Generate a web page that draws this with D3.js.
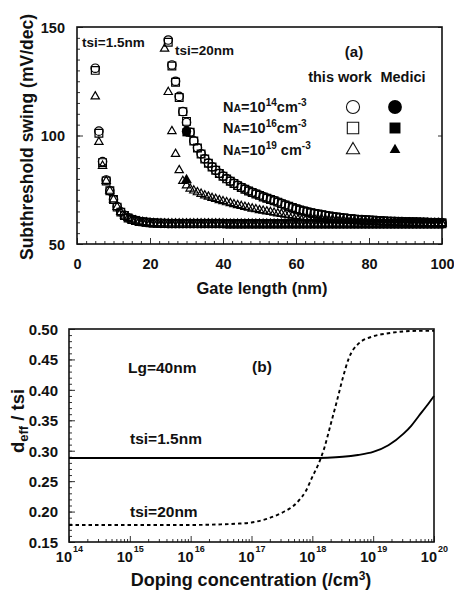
<!DOCTYPE html>
<html lang="en">
<head>
  <meta charset="UTF-8">
  <title>Subthreshold swing and deff/tsi</title>
  <script src="https://d3js.org/d3.v7.min.js"></script>
  <style>
    body { margin: 0; background: #fff; }
    svg text { font-family: "Liberation Sans", Arial, sans-serif; font-weight: bold; fill: #111; }
    .frame { fill: none; stroke: #111; stroke-width: 1.6; }
    .tick line { stroke: #333; }
    .axis path.domain { display: none; }
  </style>
</head>
<body>
<div id="chart"></div>
<script>
// ---------- panel (a): subthreshold swing vs gate length ----------
// tsi = 1.5 nm, gate length 5..100 nm
const glThin = [5,6,7,8,9,10,11,12,13,14,15,16,17,18,19,20,21,22,23,24,
  25,26,27,28,29,30,31,32,33,34,35,36,37,38,39,40,41,42,43,44,45,46,47,48,49,50,
  51,52,53,54,55,56,57,58,59,60,61,62,63,64,65,66,67,68,69,70,
  71,72,73,74,75,76,77,78,79,80,81,82,83,84,85,86,87,88,89,90,
  91,92,93,94,95,96,97,98,99,100];
const thinCirc = [131,102,88,79.5,74.5,70.5,67.2,64.8,63.2,62.1,61.4,60.9,60.5,60.2,60.0,59.8,59.7,59.6,59.5,59.5,
  59.4,59.4,59.4,59.4,59.4,59.4,59.4,59.4,59.4,59.4,59.4,59.4,59.4,59.4,59.4,59.4,59.3,59.3,59.3,59.3,59.3,59.3,59.3,59.3,59.3,59.3,
  59.3,59.3,59.3,59.3,59.3,59.3,59.3,59.3,59.3,59.3,59.3,59.3,59.3,59.3,59.3,59.3,59.3,59.3,59.3,59.3,
  59.3,59.3,59.3,59.3,59.3,59.3,59.3,59.3,59.3,59.3,59.3,59.3,59.3,59.3,59.3,59.3,59.3,59.3,59.3,59.3,
  59.3,59.3,59.3,59.3,59.3,59.3,59.3,59.3,59.3,59.3];
const thinSq = [130,101,87.5,79,74.5,70.5,67,64.7,63.1,62.0,61.3,60.8,60.4,60.2,60.0,59.8,59.7,59.6,59.5,59.5,
  59.4,59.4,59.4,59.4,59.4,59.4,59.4,59.4,59.4,59.4,59.4,59.4,59.4,59.4,59.4,59.4,59.3,59.3,59.3,59.3,59.3,59.3,59.3,59.3,59.3,59.3,
  59.3,59.3,59.3,59.3,59.3,59.3,59.3,59.3,59.3,59.3,59.3,59.3,59.3,59.3,59.3,59.3,59.3,59.3,59.3,59.3,
  59.3,59.3,59.3,59.3,59.3,59.3,59.3,59.3,59.3,59.3,59.3,59.3,59.3,59.3,59.3,59.3,59.3,59.3,59.3,59.3,
  59.3,59.3,59.3,59.3,59.3,59.3,59.3,59.3,59.3,59.3];
const thinTri = [118,97,86,79,74.5,70.5,67,64.7,63.1,62.0,61.3,60.8,60.4,60.1,59.9,59.7,59.6,59.5,59.5,59.4,
  59.4,59.4,59.4,59.4,59.4,59.4,59.4,59.4,59.4,59.4,59.4,59.4,59.4,59.4,59.4,59.4,59.3,59.3,59.3,59.3,59.3,59.3,59.3,59.3,59.3,59.3,
  59.3,59.3,59.3,59.3,59.3,59.3,59.3,59.3,59.3,59.3,59.3,59.3,59.3,59.3,59.3,59.3,59.3,59.3,59.3,59.3,
  59.3,59.3,59.3,59.3,59.3,59.3,59.3,59.3,59.3,59.3,59.3,59.3,59.3,59.3,59.3,59.3,59.3,59.3,59.3,59.3,
  59.3,59.3,59.3,59.3,59.3,59.3,59.3,59.3,59.3,59.3];

// tsi = 20 nm
const glThick = [25,26,27,28,29,30,31,32,33,34,35,36,37,38,39,40,41,42,43,44,45,46,47,48,49,50,
  51,52,53,54,55,56,57,58,59,60,61,62,63,64,65,66,67,68,69,70,
  71,72,73,74,75,76,77,78,79,80,81,82,83,84,85,86,87,88,89,90,
  91,92,93,94,95,96,97,98,99,100];
const thickCirc = [144,132.5,125,118,111,106,101.5,97.5,94.3,91.6,89.3,87.3,85.6,84.0,82.6,81.3,80.1,79.0,78.0,77.0,76.1,75.3,74.5,73.8,73.1,72.5,
  71.8,71.2,70.6,70.0,69.3,68.7,68.0,67.4,66.8,66.2,65.7,65.3,64.9,64.5,64.1,63.8,63.5,63.2,62.9,62.6,
  62.4,62.2,62.0,61.8,61.6,61.5,61.3,61.2,61.1,61.0,60.9,60.8,60.7,60.6,60.5,60.4,60.4,60.3,60.3,60.2,
  60.2,60.1,60.1,60.0,60.0,60.0,59.9,59.9,59.9,59.8];
const thickSq = [143,132,124.5,117.5,111,106.5,101.5,97.5,94.2,91.5,89.2,87.2,85.5,84.0,82.5,81.2,80.0,78.9,77.9,76.9,76.0,75.2,74.4,73.7,73.0,72.4,
  71.7,71.1,70.5,69.9,69.3,68.6,68.0,67.4,66.8,66.2,65.7,65.2,64.8,64.4,64.1,63.8,63.5,63.2,62.9,62.6,
  62.4,62.2,62.0,61.8,61.6,61.4,61.3,61.2,61.1,61.0,60.9,60.8,60.7,60.6,60.5,60.4,60.4,60.3,60.3,60.2,
  60.2,60.1,60.1,60.0,60.0,59.9,59.9,59.9,59.8,59.8];
const glThickTri = [24,25,26,27,28,29,30,31,32,33,34,35,36,37,38,39,40,41,42,43,44,45,46,47,48,49,50,
  51,52,53,54,55,56,57,58,59,60,61,62,63,64,65,66,67,68,69,70,
  71,72,73,74,75,76,77,78,79,80,81,82,83,84,85,86,87,88,89,90,
  91,92,93,94,95,96,97,98,99,100];
const thickTri = [140,120,102,91.5,84,79,77,75.5,74.6,73.8,73.1,72.4,71.8,71.2,70.7,70.2,69.7,69.2,68.8,68.3,67.9,67.5,67.1,66.7,66.3,66.0,65.6,
  65.3,65.0,64.7,64.4,64.1,63.8,63.5,63.3,63.0,62.8,62.6,62.4,62.2,62.0,61.8,61.6,61.5,61.3,61.2,61.1,
  61.0,60.9,60.8,60.7,60.6,60.5,60.4,60.4,60.3,60.2,60.2,60.1,60.1,60.0,60.0,59.9,59.9,59.9,59.8,59.8,
  59.8,59.7,59.7,59.7,59.7,59.6,59.6,59.6,59.6,59.6];

// Medici points (tsi = 20 nm, Lg = 30 nm)
const mediciGl = [30, 30, 30];
const mediciSS = [102, 101.5, 79.5];
const mediciShape = ["circle", "square", "triangle"];

// ---------- panel (b): deff/tsi vs doping ----------
const dopThin = [1e14,1e15,1e16,1e17,3.16e17,1e18,1.78e18,3.16e18,5.62e18,1e19,1.78e19,3.16e19,4.22e19,5.62e19,7.5e19,1e20];
const ratioThin = [0.288,0.288,0.288,0.288,0.288,0.288,0.2885,0.290,0.293,0.298,0.309,0.328,0.341,0.357,0.373,0.390];
const dopThick = [1e14,1e15,1e16,3.16e16,5.62e16,1e17,1.78e17,3.16e17,5.62e17,7.94e17,1e18,1.26e18,1.58e18,2e18,2.51e18,3.16e18,3.98e18,5.62e18,1e19,1.78e19,3.16e19,5.62e19,1e20];
const ratioThick = [0.178,0.178,0.178,0.179,0.180,0.182,0.188,0.198,0.215,0.235,0.257,0.278,0.305,0.343,0.380,0.419,0.452,0.475,0.488,0.493,0.496,0.497,0.497];

const xTicksA = [0, 20, 40, 60, 80, 100];
const yTicksA = [50, 100, 150];
const yTicksB = [0.15, 0.20, 0.25, 0.30, 0.35, 0.40, 0.45, 0.50];
const decades = [14, 15, 16, 17, 18, 19, 20];

const W = 454, H = 594;
const svg = d3.select("#chart").append("svg")
  .attr("width", W).attr("height", H);
svg.append("rect").attr("width", W).attr("height", H).attr("fill", "#fff");

// ===== panel (a) =====
const xA = d3.scaleLinear().domain([0, 100]).range([77, 442]);
const yA = d3.scaleLinear().domain([50, 150]).range([244, 27]);

// minor ticks
svg.append("g").attr("class", "axis")
  .attr("transform", `translate(0,${yA(50)})`)
  .call(d3.axisBottom(xA).tickValues(d3.range(0, 100, 2.5)).tickSize(-3).tickFormat(""));
svg.append("g").attr("class", "axis")
  .attr("transform", `translate(${xA(0)},0)`)
  .call(d3.axisLeft(yA).tickValues(d3.range(55, 150, 5)).tickSize(-3).tickFormat(""));
svg.append("g").attr("class", "axis")
  .attr("transform", `translate(${xA(100)},0)`)
  .call(d3.axisRight(yA).tickValues(yTicksA).tickSize(-4).tickFormat(""));

const axBA = svg.append("g").attr("class", "axis")
  .attr("transform", `translate(0,${yA(50)})`)
  .call(d3.axisBottom(xA).tickValues(xTicksA).tickSize(-6).tickPadding(15));
axBA.selectAll("text").style("font-size", "14.5px");
const axLA = svg.append("g").attr("class", "axis")
  .attr("transform", `translate(${xA(0)},0)`)
  .call(d3.axisLeft(yA).tickValues(yTicksA).tickSize(-6).tickPadding(12));
axLA.selectAll("text").style("font-size", "14.5px").attr("dy", "0.36em");

svg.append("rect").attr("class", "frame")
  .attr("x", xA(0)).attr("y", yA(150))
  .attr("width", xA(100) - xA(0)).attr("height", yA(50) - yA(150));

const sym = {
  circle: d3.symbol().type(d3.symbolCircle).size(56),
  square: d3.symbol().type(d3.symbolSquare).size(60),
  triangle: d3.symbol().type(d3.symbolTriangle).size(30)
};

function drawSeries(xs, ys, shape) {
  svg.append("g").selectAll("path")
    .data(xs.map((x, i) => [x, ys[i]]))
    .join("path")
    .attr("transform", d => `translate(${xA(d[0])},${yA(d[1])})`)
    .attr("d", sym[shape]())
    .attr("fill", "none")
    .attr("stroke", "#000")
    .attr("stroke-width", 1.2);
}
drawSeries(glThin, thinTri, "triangle");
drawSeries(glThin, thinSq, "square");
drawSeries(glThin, thinCirc, "circle");
drawSeries(glThickTri, thickTri, "triangle");
drawSeries(glThick, thickSq, "square");
drawSeries(glThick, thickCirc, "circle");

svg.append("g").selectAll("path")
  .data(mediciGl.map((x, i) => [x, mediciSS[i], mediciShape[i]]))
  .join("path")
  .attr("transform", d => `translate(${xA(d[0])},${yA(d[1])})`)
  .attr("d", d => d3.symbol().type(d[2] === "circle" ? d3.symbolCircle : d[2] === "square" ? d3.symbolSquare : d3.symbolTriangle)
    .size(d[2] === "triangle" ? 52 : 68)())
  .attr("fill", "#000");

// labels and legend
svg.append("text").attr("x", 82).attr("y", 47).style("font-size", "13.5px").text("tsi=1.5nm");
svg.append("text").attr("x", 175).attr("y", 55).style("font-size", "13.5px").text("tsi=20nm");
svg.append("text").attr("x", 354).attr("y", 57).attr("text-anchor", "middle").style("font-size", "15px").text("(a)");
svg.append("text").attr("x", 340).attr("y", 82).attr("text-anchor", "middle").style("font-size", "14.5px").text("this work");
svg.append("text").attr("x", 403).attr("y", 82).attr("text-anchor", "middle").style("font-size", "14.5px").text("Medici");

const legRows = [
  { exp: "14", sep: "", y: 112, shape: d3.symbolCircle, size: 135, fill: 150 },
  { exp: "16", sep: "", y: 133, shape: d3.symbolSquare, size: 130, fill: 120 },
  { exp: "19", sep: " ", y: 155, shape: d3.symbolTriangle, size: 75, fill: 50 }
];
legRows.forEach(r => {
  const t = svg.append("text").attr("x", 223).attr("y", r.y).style("font-size", "14.5px");
  t.append("tspan").text("N");
  t.append("tspan").style("font-size", "10.5px").text("A");
  t.append("tspan").text("=10");
  t.append("tspan").attr("dy", -6).style("font-size", "10px").text(r.exp);
  t.append("tspan").attr("dy", 6).text(r.sep + "cm");
  t.append("tspan").attr("dy", -6).style("font-size", "10px").text("-3");
  svg.append("path").attr("transform", `translate(353,${r.y - 5})`)
    .attr("d", d3.symbol().type(r.shape).size(r.size)())
    .attr("fill", "none").attr("stroke", "#111").attr("stroke-width", 1.1);
  svg.append("path").attr("transform", `translate(395,${r.y - 5})`)
    .attr("d", d3.symbol().type(r.shape).size(r.fill)())
    .attr("fill", "#000");
});

svg.append("text").attr("transform", "translate(33,137) rotate(-90)")
  .attr("text-anchor", "middle").style("font-size", "17.5px").text("Subthreshold swing (mV/dec)");
svg.append("text").attr("x", 262).attr("y", 294)
  .attr("text-anchor", "middle").style("font-size", "16.5px").text("Gate length (nm)");

// ===== panel (b) =====
const xB = d3.scaleLog().domain([1e14, 1e20]).range([69, 434]);
const yB = d3.scaleLinear().domain([0.15, 0.50]).range([542, 329]);

const minorLog = [];
decades.slice(0, -1).forEach(e => { for (let k = 2; k < 10; k++) minorLog.push(k * Math.pow(10, e)); });
svg.append("g").attr("class", "axis")
  .attr("transform", `translate(0,${yB(0.15)})`)
  .call(d3.axisBottom(xB).tickValues(minorLog).tickSize(-3).tickFormat(""));
svg.append("g").attr("class", "axis")
  .attr("transform", `translate(0,${yB(0.15)})`)
  .call(d3.axisBottom(xB).tickValues(decades.map(e => Math.pow(10, e))).tickSize(-6).tickFormat(""));
svg.append("g").attr("class", "axis")
  .attr("transform", `translate(${xB(1e14)},0)`)
  .call(d3.axisLeft(yB).tickValues(d3.range(0.16, 0.5, 0.01)).tickSize(-3).tickFormat(""));
const axLB = svg.append("g").attr("class", "axis")
  .attr("transform", `translate(${xB(1e14)},0)`)
  .call(d3.axisLeft(yB).tickValues(yTicksB).tickSize(-6).tickPadding(11).tickFormat(d3.format(".2f")));
axLB.selectAll("text").style("font-size", "15px").attr("dy", "0.36em");

// decade labels 10^n
decades.forEach(e => {
  const x = xB(Math.pow(10, e));
  svg.append("text").attr("x", x + 3).attr("y", 562).attr("text-anchor", "end")
    .style("font-size", "14.5px").text("10");
  svg.append("text").attr("x", x + 4).attr("y", 552)
    .style("font-size", "9px").text(e);
});

svg.append("rect").attr("class", "frame")
  .attr("x", xB(1e14)).attr("y", yB(0.5))
  .attr("width", xB(1e20) - xB(1e14)).attr("height", yB(0.15) - yB(0.5));

const lineB = d3.line().x(d => xB(d[0])).y(d => yB(d[1])).curve(d3.curveMonotoneX);
svg.append("path")
  .attr("d", lineB(dopThin.map((x, i) => [x, ratioThin[i]])))
  .attr("fill", "none").attr("stroke", "#000").attr("stroke-width", 1.9);
svg.append("path")
  .attr("d", lineB(dopThick.map((x, i) => [x, ratioThick[i]])))
  .attr("fill", "none").attr("stroke", "#000").attr("stroke-width", 1.9)
  .attr("stroke-dasharray", "3.5,3");

svg.append("text").attr("x", 128).attr("y", 373).style("font-size", "15.5px").text("Lg=40nm");
svg.append("text").attr("x", 262).attr("y", 372).attr("text-anchor", "middle").style("font-size", "15.5px").text("(b)");
svg.append("text").attr("x", 130).attr("y", 444).style("font-size", "15.5px").text("tsi=1.5nm");
svg.append("text").attr("x", 130).attr("y", 517).style("font-size", "15.5px").text("tsi=20nm");

const yt = svg.append("text").attr("transform", "translate(24,421) rotate(-90)")
  .attr("text-anchor", "middle").style("font-size", "18.5px");
yt.append("tspan").text("d");
yt.append("tspan").attr("dy", 4).style("font-size", "13px").text("eff");
yt.append("tspan").attr("dy", -4).text(" / tsi");

const xt = svg.append("text").attr("x", 251).attr("y", 586)
  .attr("text-anchor", "middle").style("font-size", "18px");
xt.append("tspan").text("Doping concentration (/cm");
xt.append("tspan").attr("dy", -6).style("font-size", "12px").text("3");
xt.append("tspan").attr("dy", 6).text(")");
</script>
</body>
</html>
